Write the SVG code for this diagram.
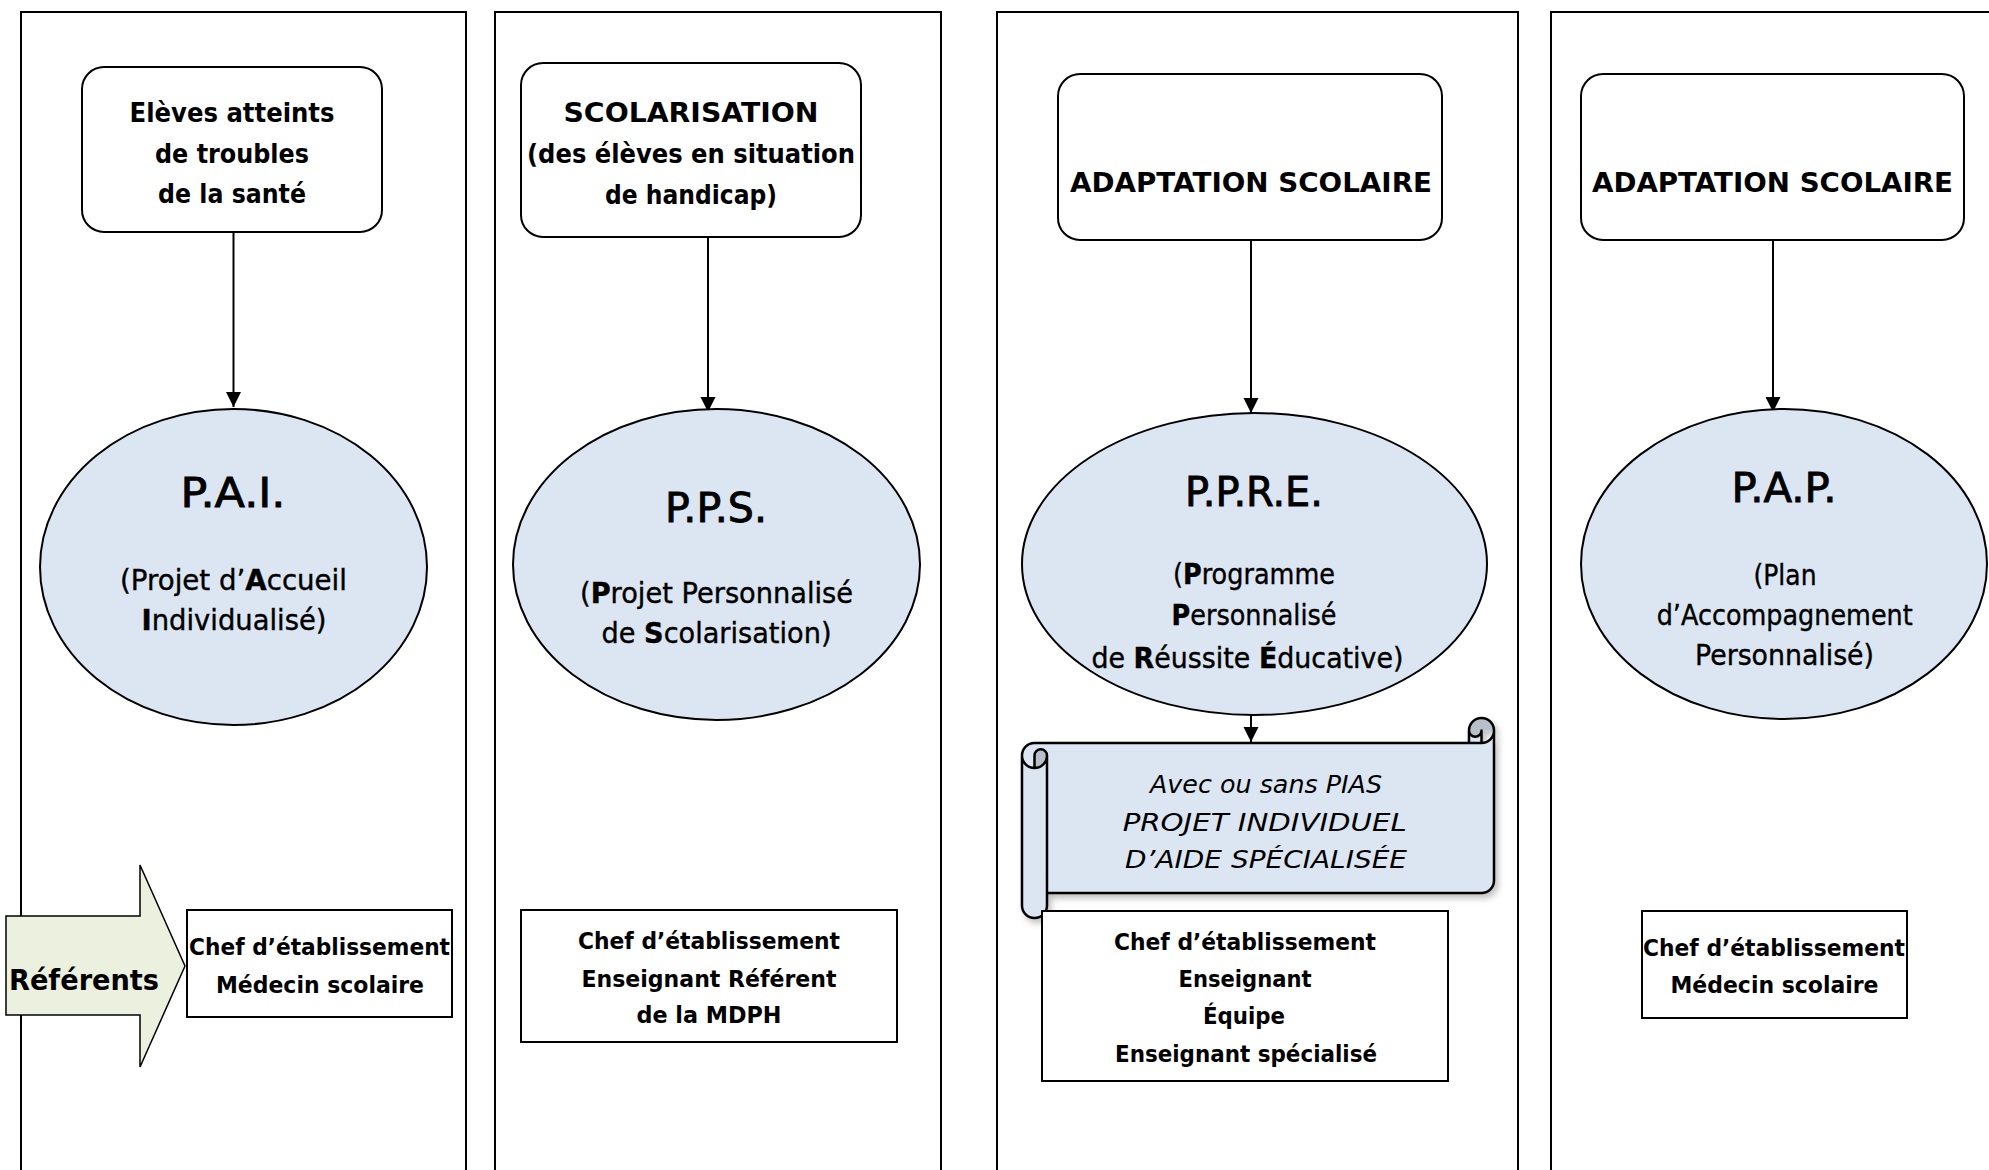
<svg xmlns="http://www.w3.org/2000/svg" width="1989" height="1170" viewBox="0 0 1989 1170">
<style>
  .col { fill: #ffffff; stroke: #000; stroke-width: 2; }
  .rbox { fill: #ffffff; stroke: #000; stroke-width: 2; }
  .ell { fill: #dce6f2; stroke: #000; stroke-width: 2; }
  .box { fill: #ffffff; stroke: #000; stroke-width: 2; }
  .conn { stroke: #000; stroke-width: 2; fill: none; }
  text { font-family: "DejaVu Sans", "Liberation Sans", sans-serif; fill: #000; text-anchor: middle; }
  .hb { font-size: 26px; font-weight: bold; }
  .ht { font-size: 41px; stroke: #000; stroke-width: 0.9px; }
  .hs { font-size: 28px; stroke: #000; stroke-width: 0.4px; }
  .rb { font-size: 23px; font-weight: bold; }
  .sc { font-size: 24px; font-style: italic; }
  .b { font-weight: bold; }
</style>
<defs>
  <marker id="arr" markerUnits="userSpaceOnUse" markerWidth="16" markerHeight="16" refX="15" refY="7.5" orient="auto">
    <path d="M0,0 L15,7.5 L0,15 Z" fill="#000"/>
  </marker>
  <filter id="shadow" x="-5%" y="-10%" width="115%" height="130%">
    <feDropShadow dx="3" dy="4" stdDeviation="3" flood-color="#000" flood-opacity="0.25"/>
  </filter>
</defs>

<!-- columns -->
<g id="columns">
  <rect id="col1" class="col" x="21" y="12" width="445" height="1180"/>
  <rect id="col2" class="col" x="495" y="12" width="446" height="1180"/>
  <rect id="col3" class="col" x="997" y="12" width="521" height="1180"/>
  <rect id="col4" class="col" x="1551" y="12" width="460" height="1180"/>
</g>

<!-- connectors -->
<g id="connectors">
  <line class="conn" x1="233.5" y1="232" x2="233.5" y2="407" marker-end="url(#arr)"/>
  <line class="conn" x1="708" y1="237" x2="708" y2="412" marker-end="url(#arr)"/>
  <line class="conn" x1="1251" y1="240" x2="1251" y2="413" marker-end="url(#arr)"/>
  <line class="conn" x1="1773" y1="240" x2="1773" y2="412" marker-end="url(#arr)"/>
  <line class="conn" x1="1251" y1="702" x2="1251" y2="742" marker-end="url(#arr)"/>
</g>

<!-- top boxes -->
<g id="box-sante">
  <rect class="rbox" x="82" y="67" width="300" height="165" rx="22"/>
  <text class="hb" x="232" y="122" textLength="205" lengthAdjust="spacingAndGlyphs">Elèves atteints</text>
  <text class="hb" x="232" y="163" textLength="154" lengthAdjust="spacingAndGlyphs">de troubles</text>
  <text class="hb" x="232" y="203" textLength="148" lengthAdjust="spacingAndGlyphs">de la santé</text>
</g>
<g id="box-scolarisation">
  <rect class="rbox" x="521" y="63" width="340" height="174" rx="22"/>
  <text class="hb" x="691" y="122" textLength="255" lengthAdjust="spacingAndGlyphs">SCOLARISATION</text>
  <text class="hb" x="691" y="163" textLength="328" lengthAdjust="spacingAndGlyphs">(des élèves en situation</text>
  <text class="hb" x="691" y="204" textLength="172" lengthAdjust="spacingAndGlyphs">de handicap)</text>
</g>
<g id="box-adaptation1">
  <rect class="rbox" x="1058" y="74" width="384" height="166" rx="22"/>
  <text class="hb" x="1251" y="192" style="font-size:26.5px" textLength="362" lengthAdjust="spacingAndGlyphs">ADAPTATION SCOLAIRE</text>
</g>
<g id="box-adaptation2">
  <rect class="rbox" x="1581" y="74" width="383" height="166" rx="22"/>
  <text class="hb" x="1772.5" y="192" style="font-size:26.5px" textLength="361" lengthAdjust="spacingAndGlyphs">ADAPTATION SCOLAIRE</text>
</g>

<!-- ellipses -->
<g id="pai">
  <ellipse class="ell" cx="233.5" cy="567" rx="193.5" ry="158"/>
  <text class="ht" x="233" y="507" textLength="105" lengthAdjust="spacingAndGlyphs">P.A.I.</text>
  <text class="hs" x="233.5" y="590" textLength="227" lengthAdjust="spacingAndGlyphs">(Projet d’<tspan class="b">A</tspan>ccueil</text>
  <text class="hs" x="234" y="630" textLength="185" lengthAdjust="spacingAndGlyphs"><tspan class="b">I</tspan>ndividualisé)</text>
</g>
<g id="pps">
  <ellipse class="ell" cx="716.5" cy="564.5" rx="203.5" ry="155.5"/>
  <text class="ht" x="716" y="522" textLength="102" lengthAdjust="spacingAndGlyphs">P.P.S.</text>
  <text class="hs" x="716.5" y="603" textLength="273" lengthAdjust="spacingAndGlyphs">(<tspan class="b">P</tspan>rojet Personnalisé</text>
  <text class="hs" x="716.5" y="643" textLength="230" lengthAdjust="spacingAndGlyphs">de <tspan class="b">S</tspan>colarisation)</text>
</g>
<g id="ppre">
  <ellipse class="ell" cx="1254.5" cy="564" rx="232.5" ry="151"/>
  <text class="ht" x="1254" y="506" textLength="138" lengthAdjust="spacingAndGlyphs">P.P.R.E.</text>
  <text class="hs" x="1254" y="584" textLength="162" lengthAdjust="spacingAndGlyphs">(<tspan class="b">P</tspan>rogramme</text>
  <text class="hs" x="1254" y="625" textLength="165" lengthAdjust="spacingAndGlyphs"><tspan class="b">P</tspan>ersonnalisé</text>
  <text class="hs" x="1247.5" y="668" textLength="312" lengthAdjust="spacingAndGlyphs">de <tspan class="b">R</tspan>éussite <tspan class="b">É</tspan>ducative)</text>
</g>
<g id="pap">
  <ellipse class="ell" cx="1784" cy="564" rx="203" ry="155"/>
  <text class="ht" x="1784" y="502" textLength="105" lengthAdjust="spacingAndGlyphs">P.A.P.</text>
  <text class="hs" x="1785" y="585" textLength="63" lengthAdjust="spacingAndGlyphs">(Plan</text>
  <text class="hs" x="1784.7" y="625" textLength="256" lengthAdjust="spacingAndGlyphs">d’Accompagnement</text>
  <text class="hs" x="1784.5" y="665" textLength="179" lengthAdjust="spacingAndGlyphs">Personnalisé)</text>
</g>

<!-- scroll -->
<g id="pias" filter="url(#shadow)">
  <path d="M1494,730.5 A12.5,12.5 0 0 1 1481.5,743 L1481.5,730.5 A6.25,6.25 0 0 1 1469,730.5 L1469,743 L1034.5,743 A12.5,12.5 0 0 0 1022,755.5 L1022,905.5 A12.5,12.5 0 0 0 1034.5,918 L1047,918 L1047,893 L1481.5,893 A12.5,12.5 0 0 0 1494,880.5 Z" fill="#dce6f2"/>
  <path d="M1469,730.5 A12.5,12.5 0 0 1 1494,730.5 L1481.5,730.5 A6.25,6.25 0 0 1 1469,730.5 Z" fill="#b7bfca"/>
  <path d="M1034.5,768 A12.5,12.5 0 0 0 1047,755.5 A6.25,6.25 0 0 0 1034.5,755.5 Z" fill="#b7bfca"/>
  <path d="M1022,755.5 A12.5,12.5 0 0 1 1034.5,743 L1469,743 L1469,730.5 A12.5,12.5 0 0 1 1494,730.5 L1494,880.5 A12.5,12.5 0 0 1 1481.5,893 L1047,893 L1047,905.5 A12.5,12.5 0 0 1 1022,905.5 Z M1469,743 L1481.5,743 A12.5,12.5 0 0 0 1494,730.5 M1481.5,743 L1481.5,730.5 A6.25,6.25 0 0 1 1469,730.5 M1034.5,768 L1034.5,755.5 A6.25,6.25 0 0 1 1047,755.5 A12.5,12.5 0 0 1 1022,755.5 M1047,755.5 L1047,893" fill="none" stroke="#000" stroke-width="2.5" stroke-linejoin="round"/>
</g>
<g id="pias-text">
  <text class="sc" x="1266" y="793" textLength="232" lengthAdjust="spacingAndGlyphs">Avec ou sans PIAS</text>
  <text class="sc" x="1264.7" y="831" textLength="284" lengthAdjust="spacingAndGlyphs">PROJET INDIVIDUEL</text>
  <text class="sc" x="1266" y="868" textLength="282" lengthAdjust="spacingAndGlyphs">D’AIDE SPÉCIALISÉE</text>
</g>

<!-- referents arrow -->
<g id="referents">
  <polygon points="6,916 140,916 140,865 185,966 140,1067 140,1015 6,1015" fill="#ebf1de" stroke="#000" stroke-width="1.5" stroke-linejoin="miter"/>
  <text x="84" y="990" style="font-size:29px;font-weight:bold" textLength="150" lengthAdjust="spacingAndGlyphs">Référents</text>
</g>

<!-- bottom boxes -->
<g id="ref-pai">
  <rect class="box" x="187" y="910" width="265" height="107"/>
  <text class="rb" x="319.5" y="955" textLength="261" lengthAdjust="spacingAndGlyphs">Chef d’établissement</text>
  <text class="rb" x="320" y="993" textLength="208" lengthAdjust="spacingAndGlyphs">Médecin scolaire</text>
</g>
<g id="ref-pps">
  <rect class="box" x="521" y="910" width="376" height="132"/>
  <text class="rb" x="709" y="949" textLength="262" lengthAdjust="spacingAndGlyphs">Chef d’établissement</text>
  <text class="rb" x="709" y="987" textLength="255" lengthAdjust="spacingAndGlyphs">Enseignant Référent</text>
  <text class="rb" x="709" y="1023" textLength="145" lengthAdjust="spacingAndGlyphs">de la MDPH</text>
</g>
<g id="ref-ppre">
  <rect class="box" x="1042" y="911" width="406" height="170"/>
  <text class="rb" x="1245" y="950" textLength="262" lengthAdjust="spacingAndGlyphs">Chef d’établissement</text>
  <text class="rb" x="1245" y="987" textLength="133" lengthAdjust="spacingAndGlyphs">Enseignant</text>
  <text class="rb" x="1244" y="1024" textLength="82" lengthAdjust="spacingAndGlyphs">Équipe</text>
  <text class="rb" x="1246" y="1062" textLength="262" lengthAdjust="spacingAndGlyphs">Enseignant spécialisé</text>
</g>
<g id="ref-pap">
  <rect class="box" x="1642" y="911" width="265" height="107"/>
  <text class="rb" x="1774" y="956" textLength="262" lengthAdjust="spacingAndGlyphs">Chef d’établissement</text>
  <text class="rb" x="1774.5" y="993" textLength="208" lengthAdjust="spacingAndGlyphs">Médecin scolaire</text>
</g>
</svg>
